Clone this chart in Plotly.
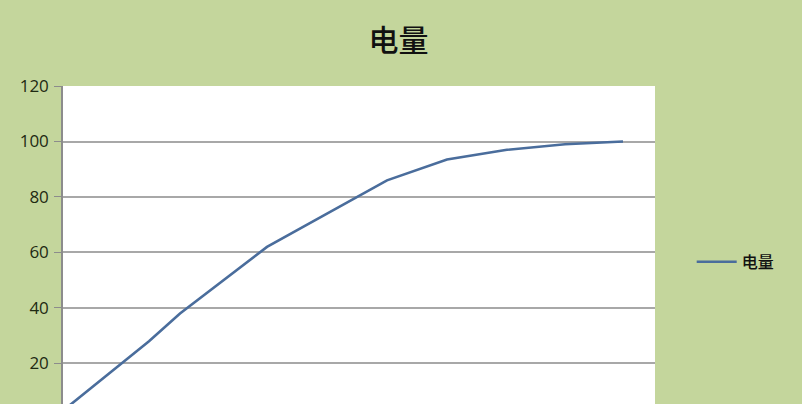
import plotly.graph_objects as go

# data
x_vals = [0, 8.6, 11.7, 20.4, 32.4, 38.4, 44.4, 50.2, 56.0]
charge = [3, 28, 38, 62, 86, 93.5, 97, 99, 100]
series_name = "电量"
title_text = "电量"
y_ticks = [20, 40, 60, 80, 100, 120]

fig = go.Figure()
fig.add_trace(go.Scatter(
    x=x_vals, y=charge, mode="lines", name=series_name,
    line=dict(color="#4a6d9c", width=2.6),
))

fig.update_layout(
    width=802, height=404,
    paper_bgcolor="#c4d69c",
    plot_bgcolor="#ffffff",
    margin=dict(l=63, r=147, t=86, b=0),
    title=dict(text=title_text, x=0.497, xref="container", xanchor="center",
               y=1 - 40 / 404, yref="container", yanchor="middle",
               font=dict(family="Noto Sans CJK SC", size=30, color="#111111",
                         weight=500)),
    showlegend=True,
    legend=dict(x=1.062, xanchor="left", y=0.447, yanchor="middle",
                bgcolor="rgba(0,0,0,0)",
                font=dict(family="Noto Sans CJK SC", size=16, color="#111111",
                          weight=500),
                itemwidth=40),
    font=dict(family="Noto Sans CJK SC"),
)
fig.update_xaxes(range=[0, 59.2], showgrid=False, showticklabels=False,
                 zeroline=False, showline=False, ticks="")
fig.update_yaxes(range=[5.4, 120], tickvals=y_ticks,
                 showgrid=True, gridcolor="#a8a8a8", gridwidth=2,
                 zeroline=False, showline=True, linecolor="#8c8c8c", linewidth=1.5,
                 ticks="outside", ticklen=7, tickcolor="#8c8c8c",
                 tickfont=dict(family="Open Sans", size=17, color="#1e2a12"),
                 ticklabelstandoff=2)

fig.write_html("out.html", config={"displayModeBar": False})
with open("out.html", encoding="utf-8") as f:
    html = f.read()
html = html.replace("<body>", '<body style="margin:0;padding:0;overflow:hidden">', 1)
with open("out.html", "w", encoding="utf-8") as f:
    f.write(html)
